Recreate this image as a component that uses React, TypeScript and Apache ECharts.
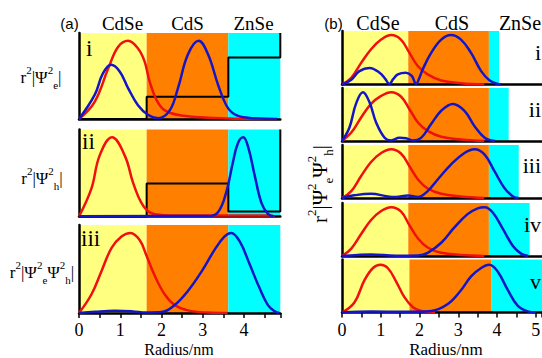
import React, { useEffect, useRef } from 'react';
import * as echarts from 'echarts';

const SERIF = 'Liberation Serif, Times New Roman, serif';
const SANS = 'Liberation Sans, Arial, sans-serif';

// ---- Panel (a): band edges (nm) ----
const aCdSeEnd = 1.64;
const aCdSEnd = 3.62;
const aXMax = 4.88;

// ---- Panel (b): band edges per sub-panel (nm) ----
const bCdSeEnd = [1.71, 1.71, 1.71, 1.71, 1.74];
const bCdSEnd = [3.79, 3.79, 3.79, 3.79, 3.86];
const bZnSeEnd = [4.05, 4.3, 4.56, 4.84, 5.16];
const bXMax = 5.16;

const tickLabelsA = ['0', '1', '2', '3', '4'];
const tickLabelsB = ['0', '1', '2', '3', '4', '5'];

// ---- (a) i : electron ----
const aI_red = [[0, 0], [0.38, 0.2], [0.71, 0.59], [0.95, 0.84], [1.19, 0.91], [1.43, 0.82], [1.59, 0.67], [1.71, 0.44], [1.88, 0.22], [2.08, 0.1], [2.48, 0.04], [3.13, 0.015], [3.8, 0.004], [4.7, 0]];
const aI_blue = [[0, 0], [0.38, 0.28], [0.58, 0.53], [0.78, 0.63], [0.99, 0.55], [1.19, 0.36], [1.43, 0.16], [1.67, 0.05], [1.92, 0.01], [2.2, 0.1], [2.4, 0.36], [2.64, 0.75], [2.9, 0.91], [3.13, 0.75], [3.37, 0.4], [3.57, 0.16], [3.77, 0.055], [4.09, 0.015], [4.8, 0]];
const aI_pot = [[0, 0], [1.64, 0], [1.64, 0.26], [3.62, 0.26], [3.62, 0.716], [4.88, 0.716], [4.88, 1]];

// ---- (a) ii : hole ----
const aII_red = [[0, 0], [0.3, 0.32], [0.5, 0.7], [0.8, 0.91], [1.11, 0.7], [1.31, 0.39], [1.51, 0.16], [1.71, 0.05], [1.99, 0.018], [2.4, 0.012], [4.6, 0.012], [4.75, 0]];
const aII_blue = [[0, 0.004], [3.13, 0.005], [3.37, 0.05], [3.57, 0.28], [3.73, 0.62], [3.85, 0.84], [3.98, 0.91], [4.1, 0.8], [4.26, 0.47], [4.42, 0.16], [4.58, 0.03], [4.74, 0]];
const aII_pot = [[0, 0], [1.64, 0], [1.64, 0.38], [3.62, 0.38], [3.62, 0.057], [4.88, 0.057], [4.88, 1]];

// ---- (a) iii : overlap ----
const aIII_red = [[0, 0], [0.3, 0.21], [0.54, 0.47], [0.79, 0.74], [1.03, 0.87], [1.25, 0.91], [1.47, 0.83], [1.63, 0.66], [1.84, 0.42], [2.08, 0.21], [2.32, 0.09], [2.64, 0.03], [3.13, 0.005], [3.6, 0]];
const aIII_blue = [[0, 0], [0.4, 0.015], [0.87, 0.025], [1.3, 0.018], [1.63, 0.005], [2.0, 0.01], [2.32, 0.09], [2.64, 0.25], [2.97, 0.47], [3.29, 0.72], [3.53, 0.87], [3.69, 0.91], [3.9, 0.81], [4.14, 0.55], [4.38, 0.28], [4.58, 0.09], [4.74, 0.02], [4.85, 0]];

// ---- (b) i..v ----
const bI_red = [[0, 0], [0.24, 0.125], [0.49, 0.4], [0.75, 0.66], [1.01, 0.84], [1.27, 0.925], [1.52, 0.84], [1.74, 0.59], [1.96, 0.34], [2.21, 0.19], [2.56, 0.075], [3.07, 0.025], [3.67, 0]];
const bI_blue = [[0, 0], [0.24, 0.09], [0.45, 0.25], [0.71, 0.31], [0.97, 0.22], [1.12, 0.1], [1.22, 0.01], [1.32, 0.1], [1.44, 0.19], [1.65, 0.22], [1.8, 0.16], [1.91, 0.01], [2.0, 0.13], [2.08, 0.28], [2.3, 0.59], [2.56, 0.84], [2.81, 0.925], [3.07, 0.84], [3.33, 0.59], [3.59, 0.25], [3.81, 0.075], [4.02, 0.01], [4.1, 0]];
const bII_red = [[0, 0], [0.24, 0.16], [0.49, 0.44], [0.75, 0.7], [1.01, 0.85], [1.27, 0.92], [1.52, 0.84], [1.74, 0.6], [1.96, 0.35], [2.21, 0.19], [2.56, 0.08], [3.07, 0.03], [3.67, 0]];
const bII_blue = [[0, 0], [0.19, 0.25], [0.36, 0.7], [0.54, 0.92], [0.71, 0.73], [0.88, 0.35], [1.1, 0.06], [1.27, 0.01], [1.48, 0.06], [1.65, 0.05], [1.83, 0.01], [2.04, 0.06], [2.3, 0.32], [2.56, 0.57], [2.86, 0.7], [3.16, 0.57], [3.42, 0.28], [3.68, 0.06], [3.85, 0.01], [3.95, 0]];
const bIII_red = [[0, 0], [0.24, 0.13], [0.49, 0.41], [0.75, 0.68], [1.01, 0.85], [1.27, 0.92], [1.52, 0.84], [1.74, 0.6], [1.96, 0.35], [2.21, 0.18], [2.56, 0.08], [3.07, 0.03], [3.67, 0]];
const bIII_blue = [[0, 0], [0.31, 0.05], [0.75, 0.08], [1.18, 0.03], [1.39, 0.02], [1.7, 0.045], [1.96, 0.02], [2.21, 0.13], [2.47, 0.35], [2.81, 0.63], [3.16, 0.85], [3.42, 0.92], [3.68, 0.82], [3.93, 0.51], [4.19, 0.19], [4.41, 0.03], [4.55, 0]];
const bIV_red = [[0, 0], [0.24, 0.14], [0.49, 0.41], [0.75, 0.68], [1.01, 0.85], [1.27, 0.92], [1.52, 0.84], [1.74, 0.58], [1.96, 0.33], [2.21, 0.16], [2.56, 0.06], [3.07, 0.02], [3.67, 0]];
const bIV_blue = [[0, 0], [0.4, 0.02], [0.75, 0.03], [1.39, 0.005], [1.96, 0.01], [2.21, 0.06], [2.56, 0.25], [2.9, 0.54], [3.24, 0.79], [3.5, 0.9], [3.68, 0.92], [3.89, 0.82], [4.15, 0.51], [4.41, 0.19], [4.62, 0.045], [4.8, 0]];
const bV_red = [[0, 0], [0.32, 0.19], [0.58, 0.61], [0.8, 0.84], [0.99, 0.9], [1.18, 0.84], [1.4, 0.58], [1.61, 0.29], [1.83, 0.1], [2.04, 0.03], [2.4, 0]];
const bV_blue = [[0, 0], [0.75, 0.02], [1.61, 0.013], [2.3, 0.03], [2.73, 0.16], [3.07, 0.42], [3.33, 0.68], [3.59, 0.84], [3.8, 0.9], [4.02, 0.77], [4.28, 0.42], [4.53, 0.13], [4.79, 0.02], [5.0, 0]];

const YELLOW = '#ffff80';
const ORANGE = '#ff8000';
const CYAN = '#00ffff';
const RED = '#f01010';
const BLUE = '#1515c8';

const A_PX_PER_NM = 41.25;
const B_PX_PER_NM = 200 / bXMax;

const leftPanels = [
  { top: 33, height: 86, red: aI_red, blue: aI_blue, pot: aI_pot },
  { top: 129.5, height: 87, red: aII_red, blue: aII_blue, pot: aII_pot },
  { top: 225, height: 88, red: aIII_red, blue: aIII_blue, pot: null },
];
const rightPanels = [
  { top: 31, height: 53.5, red: bI_red, blue: bI_blue },
  { top: 88, height: 53, red: bII_red, blue: bII_blue },
  { top: 145, height: 53, red: bIII_red, blue: bIII_blue },
  { top: 203, height: 53, red: bIV_red, blue: bIV_blue },
  { top: 259.5, height: 53, red: bV_red, blue: bV_blue },
];

function band(from: number, to: number, color: string) {
  return [{ xAxis: from, itemStyle: { color, opacity: 1 } }, { xAxis: to }];
}

function intLabel(v: number) {
  return Math.abs(v - Math.round(v)) < 1e-6 ? String(Math.round(v)) : '';
}

function buildOption() {
  const grid: any[] = [];
  const xAxis: any[] = [];
  const yAxis: any[] = [];
  const series: any[] = [];

  const addPanel = (
    gi: number,
    left: number,
    width: number,
    top: number,
    height: number,
    xmax: number,
    bottom: boolean,
    labelSize: number,
    bands: any[],
  ) => {
    grid.push({ left, top, width, height, outerBoundsMode: 'none', containLabel: false });
    xAxis.push({
      type: 'value',
      gridIndex: gi,
      min: 0,
      max: xmax,
      interval: 0.5,
      z: 2,
      axisLine: { show: true, onZero: false, lineStyle: { color: '#000', width: 2.5 } },
      axisTick: { show: bottom, length: 5, lineStyle: { color: '#000', width: 1.5 } },
      axisLabel: {
        show: bottom,
        formatter: intLabel,
        color: '#000',
        fontFamily: SERIF,
        fontSize: labelSize,
        margin: 8,
      },
      splitLine: { show: false },
    });
    yAxis.push({
      type: 'value',
      gridIndex: gi,
      min: 0,
      max: 1,
      z: 2,
      axisLine: { show: true, onZero: false, lineStyle: { color: '#000', width: 2.5 } },
      axisTick: { show: false },
      axisLabel: { show: false },
      splitLine: { show: false },
    });
    series.push({
      type: 'line',
      xAxisIndex: gi,
      yAxisIndex: gi,
      data: [[0, 0]],
      showSymbol: false,
      symbol: 'none',
      lineStyle: { opacity: 0 },
      z: 1,
      silent: true,
      markArea: { silent: true, emphasis: { disabled: true }, data: bands },
    });
  };

  const addCurve = (gi: number, data: number[][], color: string, z: number, smooth: any) => {
    series.push({
      type: 'line',
      xAxisIndex: gi,
      yAxisIndex: gi,
      data,
      smooth,
      showSymbol: false,
      symbol: 'none',
      silent: true,
      z,
      clip: smooth === false ? false : true,
      lineStyle: { color, width: smooth === false ? 2 : 2.5 },
    });
  };

  leftPanels.forEach((p, i) => {
    const gi = i;
    addPanel(gi, 79, aXMax * A_PX_PER_NM, p.top, p.height, aXMax, i === 2, 18, [
      band(0, aCdSeEnd, YELLOW),
      band(aCdSeEnd, aCdSEnd, ORANGE),
      band(aCdSEnd, aXMax, CYAN),
    ]);
    if (p.pot) addCurve(gi, p.pot, '#000', 3, false);
    addCurve(gi, p.red, RED, 4, 0.4);
    addCurve(gi, p.blue, BLUE, 5, 0.4);
  });

  rightPanels.forEach((p, i) => {
    const gi = 3 + i;
    addPanel(gi, 342, bXMax * B_PX_PER_NM, p.top, p.height, bXMax, i === 4, 18, [
      band(0, bCdSeEnd[i], YELLOW),
      band(bCdSeEnd[i], bCdSEnd[i], ORANGE),
      band(bCdSEnd[i], bZnSeEnd[i], CYAN),
    ]);
    addCurve(gi, p.red, RED, 4, 0.4);
    addCurve(gi, p.blue, BLUE, 5, 0.4);
  });

  const txt = (x: number, y: number, text: string, size: number, extra: any = {}) => ({
    type: 'text',
    x,
    y,
    z: 10,
    silent: true,
    style: {
      text,
      fontFamily: SERIF,
      fontSize: size,
      fill: '#000',
      align: 'center',
      verticalAlign: 'middle',
      ...extra,
    },
  });

  const richFor = (main: number, small: number, lh: number) => ({
    m: { fontFamily: SERIF, fontSize: main, lineHeight: lh, verticalAlign: 'middle', fill: '#000', color: '#000' },
    sup: { fontFamily: SERIF, fontSize: small, lineHeight: small + 1, verticalAlign: 'top', fill: '#000', color: '#000' },
    sub: { fontFamily: SERIF, fontSize: small, lineHeight: small + 1, verticalAlign: 'bottom', fill: '#000', color: '#000' },
  });

  const graphic: any[] = [
    txt(69.5, 23, '(a)', 15, { fontFamily: SANS }),
    txt(122.5, 23, 'CdSe', 19),
    txt(187.5, 23, 'CdS', 19),
    txt(253.5, 23, 'ZnSe', 19),
    txt(333.5, 23, '(b)', 15, { fontFamily: SANS }),
    txt(378, 23, 'CdSe', 20),
    txt(452, 23, 'CdS', 20),
    txt(520, 23, 'ZnSe', 20),
    txt(86, 48, 'i', 23, { align: 'left' }),
    txt(82, 141, 'ii', 23, { align: 'left' }),
    txt(81, 238.5, 'iii', 23, { align: 'left' }),
    txt(541, 52, 'i', 22, { align: 'right' }),
    txt(541, 109, 'ii', 22, { align: 'right' }),
    txt(541, 165.5, 'iii', 22, { align: 'right' }),
    txt(541, 224, 'iv', 22, { align: 'right' }),
    txt(541, 281, 'v', 22, { align: 'right' }),
    txt(179, 349, 'Radius/nm', 16),
    txt(446, 349, 'Radius/nm', 17),
    txt(41, 77, '{m|r}{sup|2}{m||Ψ}{sup|2}{sub|e}{m||}', 17, { rich: richFor(17, 11, 26) }),
    txt(42, 178, '{m|r}{sup|2}{m||Ψ}{sup|2}{sub|h}{m||}', 17, { rich: richFor(17, 11, 26) }),
    txt(42, 272, '{m|r}{sup|2}{m||Ψ}{sup|2}{sub|e}{m|Ψ}{sup|2}{sub|h}{m||}', 17, { rich: richFor(17, 11, 26) }),
    {
      ...txt(0, 0, '{m|r}{sup|2}{m||Ψ}{sup|2}{sub|e}{m|Ψ}{sup|2}{sub|h}{m||}', 21, { rich: richFor(21, 13, 30) }),
      x: 320,
      y: 184,
      rotation: Math.PI / 2,
    },
  ];

  return {
    animation: false,
    backgroundColor: '#ffffff',
    grid,
    xAxis,
    yAxis,
    series,
    graphic,
  };
}

export default function App() {
  const ref = useRef<HTMLDivElement>(null);
  useEffect(() => {
    if (!ref.current) return;
    const chart = echarts.init(ref.current, undefined, { renderer: 'svg' });
    chart.setOption(buildOption() as any);
    return () => chart.dispose();
  }, []);
  return (
    <div
      ref={ref}
      style={{ position: 'absolute', left: 0, top: 0, width: 542, height: 358, background: '#fff' }}
    />
  );
}
